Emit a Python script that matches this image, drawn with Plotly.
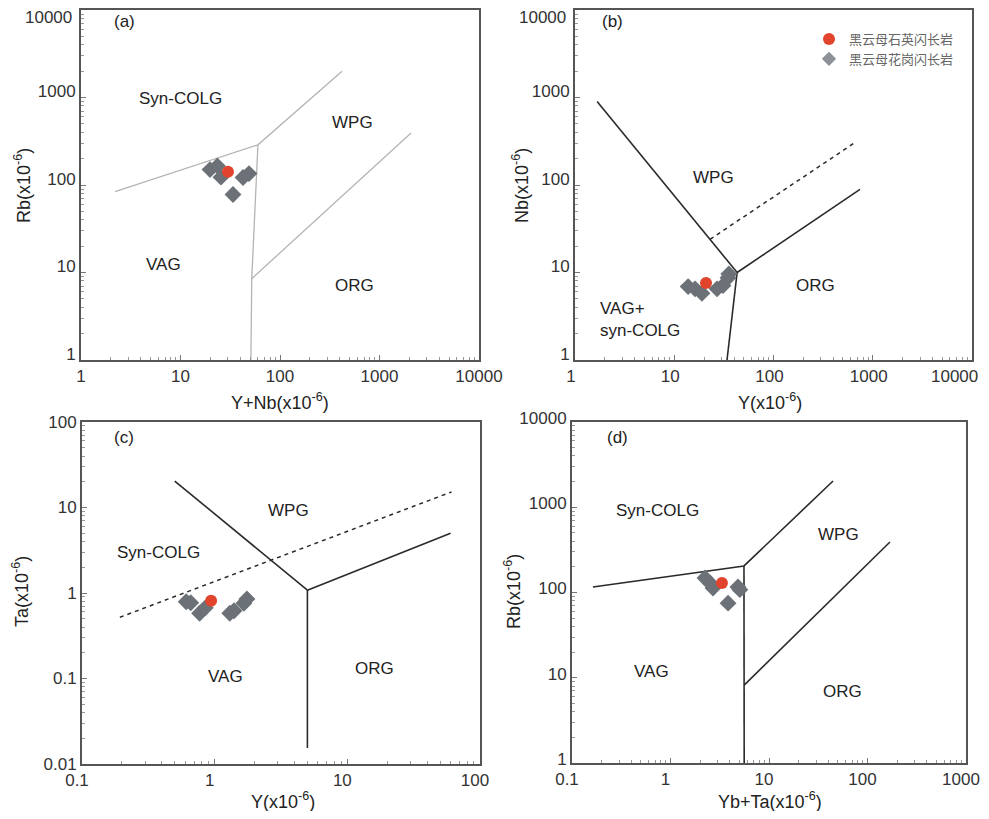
import plotly.graph_objects as go
from plotly.subplots import make_subplots

# page size and figure size (the page body keeps its default 8px margin)
PAGE_W, PAGE_H = 989, 819
OFF = 8
W, H = PAGE_W - 2 * OFF, PAGE_H - 2 * OFF

# ---------------- data ----------------
# Panel (a): Rb vs Y+Nb
a_red_x = [30]
a_red_y = [142]
a_gray_x = [19.8, 23.5, 25.5, 42.5, 48.8, 33.7]
a_gray_y = [150, 165, 123, 122, 135, 78]
a_b1_x = [2.2, 60, 420]; a_b1_y = [84, 288, 2000]
a_b2_x = [60, 52, 51]; a_b2_y = [288, 8.5, 1]
a_b3_x = [52, 2075]; a_b3_y = [8.5, 393]

# Panel (b): Nb vs Y
b_red_x = [20.9]
b_red_y = [7.6]
b_gray_x = [13.8, 16.2, 19.0, 27.0, 31.0, 34.8, 35.5]
b_gray_y = [6.9, 6.5, 5.8, 6.5, 7.1, 8.7, 9.6]
b_b1_x = [1.67, 43]; b_b1_y = [900, 10]
b_b2_x = [43, 744]; b_b2_y = [10, 89]
b_b3_x = [43, 34]; b_b3_y = [10, 1]
b_dash_x = [23, 678]; b_dash_y = [24, 311]

# Panel (c): Ta vs Y
c_red_x = [0.94]
c_red_y = [0.81]
c_gray_x = [0.61, 0.66, 0.77, 0.85, 1.30, 1.40, 1.66, 1.75]
c_gray_y = [0.79, 0.77, 0.58, 0.67, 0.58, 0.62, 0.76, 0.85]
c_b1_x = [0.50, 5.0]; c_b1_y = [20.4, 1.08]
c_b2_x = [5.0, 5.0]; c_b2_y = [1.08, 0.0154]
c_b3_x = [5.0, 60]; c_b3_y = [1.08, 5.0]
c_dash_x = [0.193, 61]; c_dash_y = [0.52, 15.2]

# Panel (d): Rb vs Yb+Ta
d_red_x = [3.33]
d_red_y = [129]
d_gray_x = [2.24, 2.52, 2.70, 4.84, 5.06, 3.84]
d_gray_y = [148, 129, 113, 116, 108, 75]
d_b1_x = [0.163, 5.57, 44.7]; d_b1_y = [116, 205, 2032]
d_b2_x = [5.57, 5.6]; d_b2_y = [205, 1]
d_b3_x = [5.6, 169]; d_b3_y = [8.2, 391]

legend_names = ["黑云母石英闪长岩", "黑云母花岗闪长岩"]

# ---------------- styling ----------------
RED = "#e2432d"
GRAY = "#6b7176"
LINE = "#2a2a2a"
LIGHT = "#b4b4b4"
FONT = "Liberation Sans, Arial, sans-serif"

fig = make_subplots(rows=2, cols=2)

def lines(xs, ys, row, col, color=LINE, dash="solid", width=1.6):
    fig.add_trace(go.Scatter(x=xs, y=ys, mode="lines", showlegend=False,
                             line=dict(color=color, width=width, dash=dash),
                             hoverinfo="skip"), row=row, col=col)

def points(rx, ry, gx, gy, row, col, legend=False):
    fig.add_trace(go.Scatter(x=gx, y=gy, mode="markers", name=legend_names[1],
                             showlegend=False,
                             marker=dict(symbol="diamond", size=13, color=GRAY)),
                  row=row, col=col)
    fig.add_trace(go.Scatter(x=rx, y=ry, mode="markers", name=legend_names[0],
                             showlegend=legend, legendrank=1,
                             marker=dict(symbol="circle", size=12, color=RED)),
                  row=row, col=col)
    if legend:
        fig.add_trace(go.Scatter(x=[None], y=[None], mode="markers", name=legend_names[1],
                                 showlegend=True, legendrank=2,
                                 marker=dict(symbol="diamond", size=11, color="#8c9297")),
                      row=row, col=col)

lines(a_b1_x, a_b1_y, 1, 1, LIGHT, width=1.3)
lines(a_b2_x, a_b2_y, 1, 1, LIGHT, width=1.3)
lines(a_b3_x, a_b3_y, 1, 1, LIGHT, width=1.3)
points(a_red_x, a_red_y, a_gray_x, a_gray_y, 1, 1)
lines(b_b1_x, b_b1_y, 1, 2)
lines(b_b2_x, b_b2_y, 1, 2)
lines(b_b3_x, b_b3_y, 1, 2)
lines(b_dash_x, b_dash_y, 1, 2, dash="4px,4px", width=1.5)
points(b_red_x, b_red_y, b_gray_x, b_gray_y, 1, 2, legend=True)
lines(c_b1_x, c_b1_y, 2, 1)
lines(c_b2_x, c_b2_y, 2, 1)
lines(c_b3_x, c_b3_y, 2, 1)
lines(c_dash_x, c_dash_y, 2, 1, dash="4px,4px", width=1.5)
points(c_red_x, c_red_y, c_gray_x, c_gray_y, 2, 1)
lines(d_b1_x, d_b1_y, 2, 2)
lines(d_b2_x, d_b2_y, 2, 2)
lines(d_b3_x, d_b3_y, 2, 2)
points(d_red_x, d_red_y, d_gray_x, d_gray_y, 2, 2)

def px(x):
    return (x - OFF) / W

def py(y):
    return 1 - (y - OFF) / H

def minor_vals(lo, hi):
    out = []
    for e in range(lo, hi):
        for m in range(2, 10):
            out.append(m * 10 ** e)
    return out

def major_vals(lo, hi):
    return [10 ** e for e in range(lo, hi + 1)]

def fmt(v):
    return ("%g" % v)

panels = {
    # index: (x pixel domain, y pixel domain, xrange(log), yrange(log),
    #         x label shift, y label shift, hide last x label, hide last y label)
    1: ((81, 479), (10, 360), (0, 4), (0, 4), 0, -6, False, True),
    2: ((575, 972), (10, 360), (0, 4), (0, 4), -4, -6, True, True),
    3: ((82, 480), (422, 764), (-1, 2), (-2, 2), -5, 0, False, False),
    4: ((572, 966), (422, 763), (-1, 3), (0, 4), -5, -4, False, False),
}

tickfont = dict(family=FONT, size=17, color="#333")
for i, (xd, yd, xr, yr, xs, ys, hx, hy) in panels.items():
    sfx = "" if i == 1 else str(i)
    xv = major_vals(*xr)
    yv = major_vals(*yr)
    xt = [fmt(v) for v in xv]
    yt = [fmt(v) for v in yv]
    if hx:
        xt[-1] = ""
    if hy:
        yt[-1] = ""
    common = dict(type="log", showgrid=False, zeroline=False, showline=True,
                  linecolor="#555", linewidth=2, mirror=True, automargin=False,
                  ticks="inside", ticklen=5, tickcolor="#777", tickwidth=1,
                  tickfont=tickfont)
    fig.layout["xaxis" + sfx].update(
        domain=[max(0, px(xd[0])), min(1, px(xd[1]))], range=list(xr),
        tickvals=xv, ticktext=xt, ticklabelshift=xs,
        minor=dict(tickvals=minor_vals(*xr), ticks="inside", ticklen=3,
                   tickcolor="#999", showgrid=False),
        **common)
    fig.layout["yaxis" + sfx].update(
        domain=[max(0, py(yd[1])), min(1, py(yd[0]))], range=list(yr),
        tickvals=yv, ticktext=yt, ticklabelshift=ys,
        minor=dict(tickvals=minor_vals(*yr), ticks="inside", ticklen=3,
                   tickcolor="#999", showgrid=False),
        **common)

ann = []
def text(x, y, s, size=17, angle=0, xanchor="center", align="center", color="#222"):
    ann.append(dict(x=px(x), y=py(y), xref="paper", yref="paper", text=s,
                    showarrow=False, textangle=angle, xanchor=xanchor,
                    yanchor="middle", align=align,
                    font=dict(family=FONT, size=size, color=color)))

sup = "(x10<sup>-6</sup>)"
text(124, 22, "(a)"); text(180, 98, "Syn-COLG"); text(352, 122, "WPG")
text(163, 265, "VAG"); text(354, 285, "ORG")
text(612, 22, "(b)"); text(713, 178, "WPG"); text(815, 285, "ORG")
text(598, 319, "VAG+<br>syn-COLG", xanchor="left", align="left")
text(124, 437, "(c)"); text(288, 511, "WPG"); text(158, 552, "Syn-COLG")
text(225, 676, "VAG"); text(374, 668, "ORG")
text(617, 437, "(d)"); text(657, 511, "Syn-COLG"); text(838, 534, "WPG")
text(651, 671, "VAG"); text(842, 691, "ORG")
text(280, 402, "Y+Nb" + sup, size=18)
text(770, 402, "Y" + sup, size=18)
text(283, 800, "Y" + sup, size=18)
text(770, 800, "Yb+Ta" + sup, size=18)
text(22, 186, "Rb" + sup, size=18, angle=-90)
text(520, 186, "Nb" + sup, size=18, angle=-90)
text(20, 592, "Ta" + sup, size=18, angle=-90)
text(512, 592, "Rb" + sup, size=18, angle=-90)
# edge tick labels that would otherwise fall outside the drawing area
text(74, 17, "10000", xanchor="right", color="#333")
text(568, 17, "10000", xanchor="right", color="#333")
text(980, 376, "10000", xanchor="right", color="#333")

fig.update_layout(
    width=W, height=H,
    margin=dict(l=0, r=0, t=0, b=0, autoexpand=False),
    paper_bgcolor="white", plot_bgcolor="white",
    annotations=ann,
    showlegend=True,
    legend=dict(x=px(809), y=py(24), xanchor="left", yanchor="top",
                bgcolor="rgba(0,0,0,0)", tracegroupgap=4,
                font=dict(family="Noto Sans CJK SC", size=13, color="#666")),
)

fig.write_html("out.html", config={"displayModeBar": False})
